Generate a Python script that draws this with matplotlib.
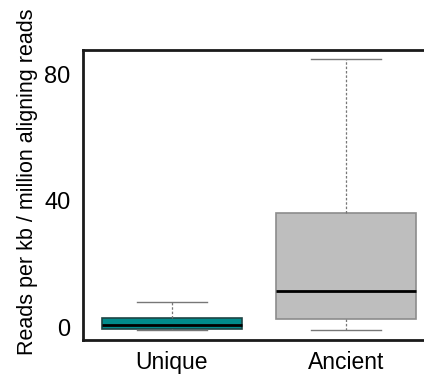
import matplotlib
matplotlib.use("Agg")
import matplotlib.pyplot as plt

plt.rcParams['font.family'] = ['Liberation Sans', 'DejaVu Sans']

categories = ["Unique", "Ancient"]
whislo = [-0.6, -0.8]
q1 = [-0.5, 2.7]
med = [0.8, 11.5]
q3 = [2.9, 36.3]
whishi = [8.0, 84.7]
yticks = [0, 40, 80]

face_colors = ["#008B8B", "#BEBEBE"]
edge_colors = ["#1f4545", "#8c8c8c"]

fig = plt.figure(figsize=(4.24, 3.77), dpi=100)
ax = fig.add_axes([0.1958, 0.0981, 0.830, 0.769])

stats = []
for i, c in enumerate(categories):
    stats.append(dict(label=c, whislo=whislo[i], q1=q1[i], med=med[i],
                      q3=q3[i], whishi=whishi[i], fliers=[]))

for i, s in enumerate(stats):
    ax.bxp([s], positions=[i + 1], widths=0.8, patch_artist=True,
           showfliers=False,
           boxprops=dict(facecolor=face_colors[i], edgecolor=edge_colors[i], linewidth=1.2),
           medianprops=dict(color="black", linewidth=2),
           whiskerprops=dict(color="#777777", linestyle=(0, (2, 1.5)), linewidth=0.9),
           capprops=dict(color="#777777", linewidth=1.0),
           capwidths=0.4)

ax.set_xlim(0.489, 2.511)
ax.set_ylim(-3.9, 87.6)
ax.set_yticks(yticks)
ax.set_yticklabels([str(t) for t in yticks], fontsize=17)
ax.set_xticks([1, 2])
ax.set_xticklabels(categories, fontsize=16.5)
ax.tick_params(axis='y', length=0, pad=9)
ax.tick_params(axis='x', length=0, pad=8)
for side in ['left', 'top', 'bottom', 'right']:
    ax.spines[side].set_linewidth(2)
    ax.spines[side].set_color("#1a1a1a")

fig.text(0.064, 0.517, "Reads per kb / million aligning reads", rotation=90,
         ha='center', va='center', fontsize=15.5)

fig.savefig("out.png", dpi=100)
